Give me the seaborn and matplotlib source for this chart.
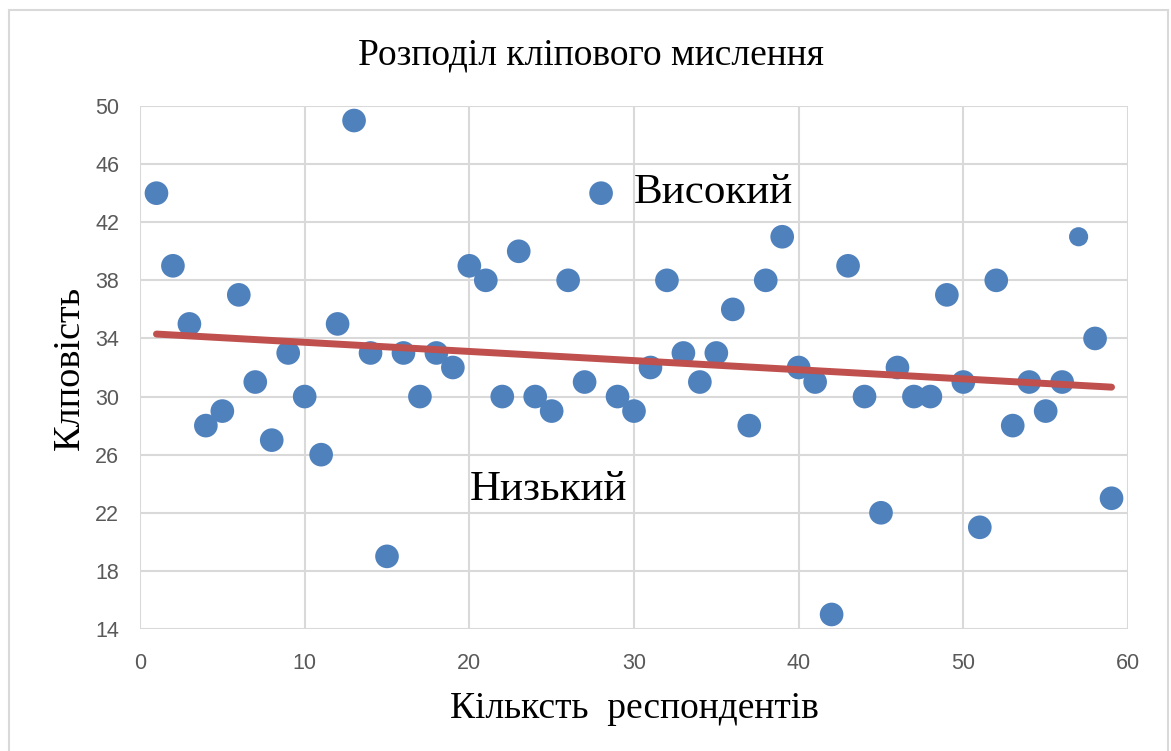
import matplotlib
matplotlib.use('Agg')
import matplotlib.pyplot as plt
import matplotlib.patches as patches
import seaborn as sns
import numpy as np
import pandas as pd

# дані
respondenty = list(range(1, 60))
klipovist = [44, 39, 35, 28, 29, 37, 31, 27, 33, 30,
             26, 35, 49, 33, 19, 33, 30, 33, 32, 39,
             38, 30, 40, 30, 29, 38, 31, 44, 30, 29,
             32, 38, 33, 31, 33, 36, 28, 38, 41, 32,
             31, 15, 39, 30, 22, 32, 30, 30, 37, 31,
             21, 38, 28, 31, 29, 31, 41, 34, 23]
x_ticks = [0, 10, 20, 30, 40, 50, 60]
y_ticks = [14, 18, 22, 26, 30, 34, 38, 42, 46, 50]

df = pd.DataFrame({'x': respondenty, 'y': klipovist})
# точка 57 у оригіналі трохи менша
df['size'] = np.where(df['x'] == 57, 'small', 'big')

sns.set_style('white')
plt.rcParams['font.family'] = ['Liberation Serif', 'DejaVu Serif']
plt.rcParams['text.color'] = 'black'
plt.rcParams['axes.labelcolor'] = 'black'

fig = plt.figure(figsize=(11.71, 7.51), dpi=100)
ax = fig.add_axes([140 / 1171, 1 - 629 / 751, (1128 - 140) / 1171, (629 - 106) / 751])

grid_c = '#d9d9d9'
ax.set_xlim(0, 60)
ax.set_ylim(14, 50)
ax.set_xticks(x_ticks)
ax.set_yticks(y_ticks)
ax.grid(True, color=grid_c, lw=1.5)
ax.set_axisbelow(True)
for s in ax.spines.values():
    s.set_visible(False)

sns.scatterplot(data=df, x='x', y='y', size='size', sizes={'big': 290, 'small': 190},
                color='#4f81bd', edgecolor='none', legend=False, ax=ax, zorder=3)
sns.regplot(data=df, x='x', y='y', scatter=False, ci=None, ax=ax,
            line_kws={'color': '#c0504d', 'lw': 5, 'solid_capstyle': 'round', 'zorder': 4})

ax.tick_params(axis='both', length=0, labelsize=15.5, labelcolor='#595959')
ax.tick_params(axis='x', pad=17)
ax.tick_params(axis='y', pad=15)
for lab in ax.get_xticklabels() + ax.get_yticklabels():
    lab.set_family(['Liberation Sans', 'DejaVu Sans'])

ax.set_xlabel('Кільксть  респондентів', fontsize=27, labelpad=13)
ax.set_ylabel('Клповість', fontsize=27.5, labelpad=6)

fig.text(0.5 + 5 / 1171, 1 - 55 / 751, 'Розподіл кліпового мислення', fontsize=27,
         ha='center', va='center')

ax.text(30.0, 44.0, 'Високий', fontsize=31, ha='left', va='center', zorder=5)
ax.text(20.0, 23.6, 'Низький', fontsize=31, ha='left', va='center', zorder=5)

# рамка навколо всієї діаграми
fig.patches.append(patches.Rectangle((9 / 1171, -0.01), (1168 - 9) / 1171, 1 - 10 / 751 + 0.01,
                                     transform=fig.transFigure, fill=False,
                                     edgecolor='#d9d9d9', lw=1.5))

fig.savefig('out.png', dpi=100, facecolor='white')
